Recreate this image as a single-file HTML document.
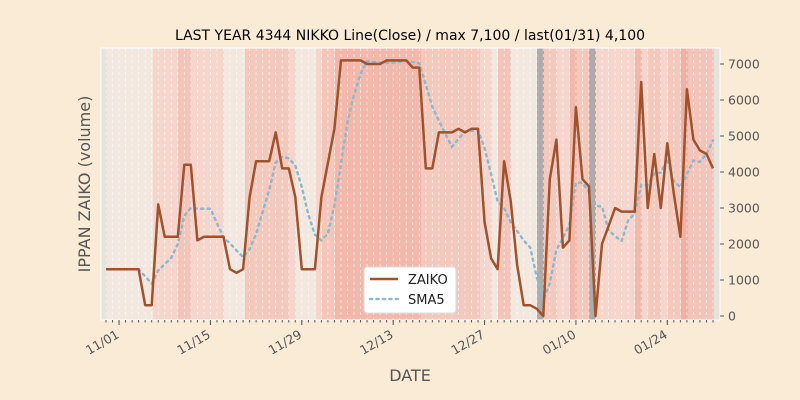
<!DOCTYPE html>
<html><head><meta charset="utf-8"><style>
html,body{margin:0;padding:0;background:#faebd7;}
svg{display:block;font-family:"DejaVu Sans","Liberation Sans",sans-serif;}
</style></head><body>
<svg id="s" width="800" height="400" viewBox="0 0 800 400" xmlns="http://www.w3.org/2000/svg">
<rect width="800" height="400" fill="#faebd7"/>
<g id="bands"></g>
<g id="grid"></g>
<rect x="101" y="48" width="619" height="272" fill="none" stroke="#ffffff" stroke-width="1"/>
<polyline id="sma" fill="none" stroke="#8fb8cc" stroke-width="2.5" stroke-dasharray="2,4.5" stroke-linecap="round"/>
<polyline id="zai" fill="none" stroke="#a0522d" stroke-width="2.5" stroke-linejoin="round"/>
<g id="ticks" stroke="#555" stroke-width="1"></g>
<g id="ylab" font-size="12.5" fill="#555"></g>
<g id="xlab" font-size="12.5" fill="#555"></g>
<text x="410" y="40" font-size="14" text-anchor="middle" fill="#000">LAST YEAR 4344 NIKKO Line(Close) / max 7,100 / last(01/31) 4,100</text>
<text x="410" y="381" font-size="16" text-anchor="middle" fill="#555">DATE</text>
<text transform="translate(90,184) rotate(-90)" font-size="16" text-anchor="middle" fill="#555">IPPAN ZAIKO (volume)</text>
<g>
<rect x="364" y="267" width="92" height="46" rx="3" fill="#fff" stroke="#ddd"/>
<line x1="370" y1="279" x2="398" y2="279" stroke="#a0522d" stroke-width="2.5"/>
<text x="408" y="284" font-size="13" fill="#222">ZAIKO</text>
<line x1="370" y1="299" x2="398" y2="299" stroke="#8fb8cc" stroke-width="2.5" stroke-dasharray="2,4.5" stroke-linecap="round"/>
<text x="408" y="304" font-size="13" fill="#222">SMA5</text>
</g>
</svg>
<script>
var NS="http://www.w3.org/2000/svg";
function el(p,t,a){var e=document.createElementNS(NS,t);for(var k in a)e.setAttribute(k,a[k]);p.appendChild(e);return e;}
var bands=[[101,107,"#e6e2dc"],[107,153,"#f3e8df"],[153,178,"#f5d5cc"],[178,191,"#f3c4b9"],[191,224,"#f5d5cc"],[224,245,"#f3e8df"],[245,289,"#f3c8bd"],[289,296,"#f5d5cc"],[296,316,"#f3e8df"],[316,322,"#f5d5cc"],[322,335,"#f4c6ba"],[335,421,"#f2b8ac"],[421,480,"#f3c8bd"],[480,492,"#f5d5cc"],[492,498,"#f3e8df"],[498,511,"#f3c4b9"],[511,537,"#f3e8df"],[537,544,"#b0abab"],[544,557,"#f3c8bd"],[557,570,"#f5d5cc"],[570,577,"#f2b8ac"],[577,589,"#f3c8bd"],[589,596,"#b0abab"],[596,635,"#f5d5cc"],[635,642,"#f2b8ac"],[642,648,"#f5d5cc"],[648,661,"#f3c8bd"],[661,668,"#f5d5cc"],[668,681,"#f3c8bd"],[681,688,"#f2b0a4"],[688,714,"#f3c4b9"],[714,720,"#e6e2dc"]];
var B=document.getElementById("bands");
bands.forEach(function(b){el(B,"rect",{x:b[0],y:48,width:b[1]-b[0],height:272,fill:b[2]});});
var v=[1300,1300,1300,1300,1300,1300,300,300,3100,2200,2200,2200,4200,4200,2100,2200,2200,2200,2200,1300,1200,1300,3300,4300,4300,4300,5100,4100,4100,3300,1300,1300,1300,3300,4250,5200,7100,7100,7100,7100,7000,7000,7000,7100,7100,7100,7100,6900,6900,4100,4100,5100,5100,5100,5200,5100,5200,5200,2600,1600,1300,4300,3200,1400,300,300,200,0,3800,4900,1900,2100,5800,3800,3600,0,2000,2500,3000,2900,2900,2900,6500,3000,4500,3000,4800,3400,2200,6300,4900,4600,4500,4100];
var n=v.length,x0=106,dx=(713-106)/(n-1);
function X(i){return x0+i*dx;}function Y(val){return 316-val*0.036;}
var G=document.getElementById("grid");
for(var i=0;i<n;i++){el(G,"line",{x1:X(i),y1:48,x2:X(i),y2:320,stroke:"#fff","stroke-width":0.8,"stroke-dasharray":"3,3",opacity:0.7});}
var p=[];for(i=0;i<n;i++)p.push(X(i).toFixed(1)+","+Y(v[i]).toFixed(1));
document.getElementById("zai").setAttribute("points",p.join(" "));
var q=[];for(i=4;i<n;i++){var s=0;for(var j=i-4;j<=i;j++)s+=v[j];q.push(X(i).toFixed(1)+","+Y(s/5).toFixed(1));}
document.getElementById("sma").setAttribute("points",q.join(" "));
var T=document.getElementById("ticks"),YL=document.getElementById("ylab"),XL=document.getElementById("xlab");
for(var k=0;k<=7;k++){var y=Y(k*1000);el(T,"line",{x1:720,y1:y,x2:724,y2:y});var t=el(YL,"text",{x:728,y:y+4.5});t.textContent=k*1000;}
for(i=0;i<n;i++){var x=X(i);el(T,"line",{x1:x,y1:320,x2:x,y2:322.5});}
var labs=["11/01","11/15","11/29","12/13","12/27","01/10","01/24"];
for(k=0;k<7;k++){var xi=X(2+14*k);el(T,"line",{x1:xi,y1:320,x2:xi,y2:325});var t2=el(XL,"text",{transform:"translate("+(xi+1)+",337) rotate(-30)","text-anchor":"end"});t2.textContent=labs[k];}
</script>
</body></html>
